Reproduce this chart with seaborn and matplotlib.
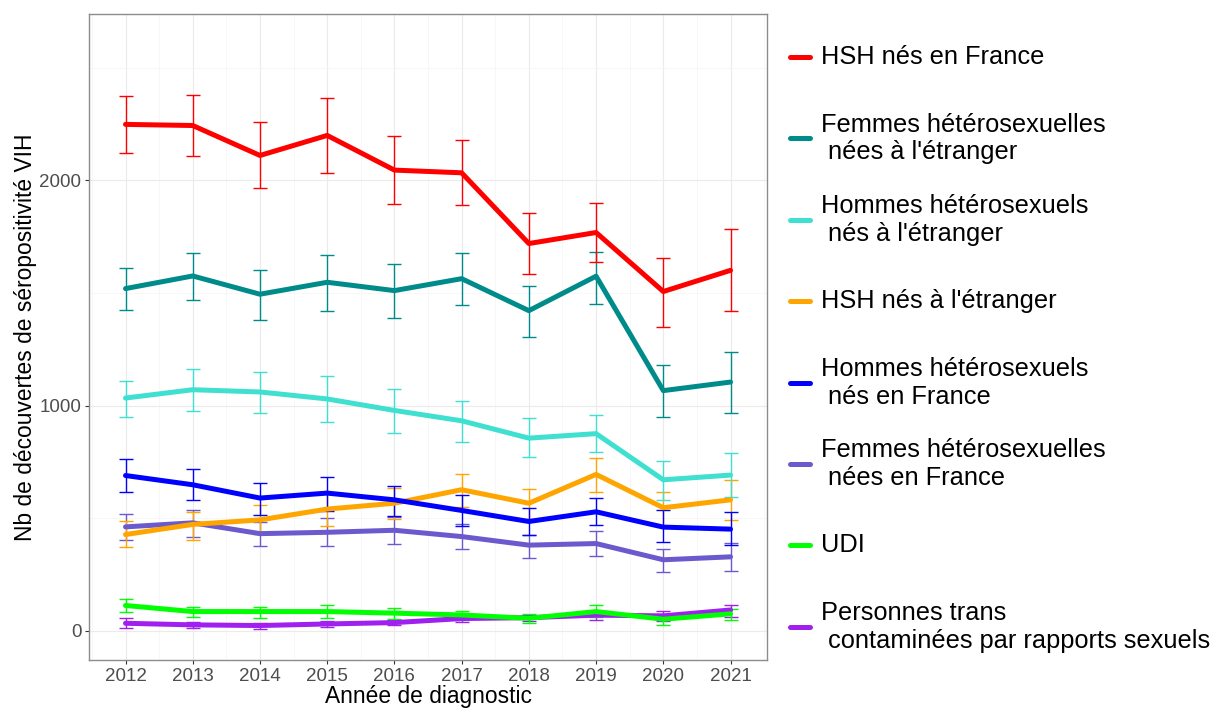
import matplotlib
matplotlib.use("Agg")
import matplotlib.pyplot as plt
from matplotlib.lines import Line2D
from matplotlib.ticker import MultipleLocator
import seaborn as sns
import pandas as pd

# data
years = [2012, 2013, 2014, 2015, 2016, 2017, 2018, 2019, 2020, 2021]

hsh_fr = [2249, 2244, 2111, 2200, 2046, 2034, 1720, 1769, 1507, 1601]
hsh_fr_lo = [2124, 2108, 1966, 2033, 1896, 1890, 1585, 1637, 1351, 1422]
hsh_fr_hi = [2376, 2379, 2258, 2366, 2199, 2179, 1855, 1899, 1656, 1784]

fem_etr = [1520, 1576, 1495, 1548, 1511, 1564, 1422, 1575, 1067, 1105]
fem_etr_lo = [1425, 1468, 1382, 1419, 1388, 1447, 1303, 1453, 948, 969]
fem_etr_hi = [1610, 1680, 1601, 1670, 1628, 1678, 1533, 1684, 1182, 1240]

hom_etr = [1034, 1071, 1061, 1030, 979, 933, 856, 876, 671, 692]
hom_etr_lo = [952, 976, 966, 929, 880, 840, 773, 793, 581, 593]
hom_etr_hi = [1110, 1163, 1151, 1132, 1076, 1022, 944, 960, 756, 791]

hsh_etr = [428, 473, 493, 541, 567, 627, 567, 695, 547, 582]
hsh_etr_lo = [373, 404, 430, 468, 496, 552, 496, 616, 467, 493]
hsh_etr_hi = [487, 530, 559, 612, 636, 696, 632, 767, 619, 671]

hom_fr = [690, 649, 590, 612, 582, 535, 486, 529, 461, 452]
hom_fr_lo = [619, 581, 514, 533, 510, 467, 425, 470, 394, 382]
hom_fr_hi = [763, 717, 659, 683, 643, 603, 545, 592, 535, 526]

fem_fr = [462, 480, 432, 438, 447, 419, 381, 388, 316, 329]
fem_fr_lo = [403, 418, 379, 375, 388, 366, 326, 333, 262, 267]
fem_fr_hi = [517, 535, 483, 502, 508, 477, 427, 443, 366, 391]

udi = [113, 86, 86, 86, 79, 71, 56, 86, 52, 76]
udi_lo = [83, 62, 59, 59, 55, 47, 36, 64, 28, 47]
udi_hi = [142, 108, 108, 114, 104, 90, 73, 113, 74, 98]

trans = [34, 27, 24, 31, 37, 55, 59, 70, 67, 93]
trans_lo = [12, 13, 10, 18, 25, 40, 43, 50, 46, 61]
trans_hi = [56, 40, 34, 43, 47, 70, 72, 88, 87, 116]

groups = [
    "HSH nés en France",
    "Femmes hétérosexuelles\n nées à l'étranger",
    "Hommes hétérosexuels\n nés à l'étranger",
    "HSH nés à l'étranger",
    "Hommes hétérosexuels\n nés en France",
    "Femmes hétérosexuelles\n nées en France",
    "UDI",
    "Personnes trans\n contaminées par rapports sexuels",
]
colors = ["#FF0000", "#008B8B", "#40E0D0", "#FFA500",
          "#0000FF", "#6A5ACD", "#00FF00", "#A020F0"]

values = [hsh_fr, fem_etr, hom_etr, hsh_etr, hom_fr, fem_fr, udi, trans]
lows = [hsh_fr_lo, fem_etr_lo, hom_etr_lo, hsh_etr_lo, hom_fr_lo, fem_fr_lo, udi_lo, trans_lo]
highs = [hsh_fr_hi, fem_etr_hi, hom_etr_hi, hsh_etr_hi, hom_fr_hi, fem_fr_hi, udi_hi, trans_hi]

frames = []
for g, v, lo, hi in zip(groups, values, lows, highs):
    frames.append(pd.DataFrame({"annee": years, "n": v, "lo": lo, "hi": hi, "groupe": g}))
df = pd.concat(frames, ignore_index=True)

palette = dict(zip(groups, colors))
# ggplot draws the factor levels alphabetically
draw_order = sorted(groups)

sns.set_theme(style="white")
plt.rcParams["font.family"] = ["Liberation Sans", "DejaVu Sans"]

fig = plt.figure(figsize=(12.21, 7.08), dpi=100)
ax = fig.add_axes([0.0729, 0.0678, 0.5553, 0.9124])

for g in draw_order:
    sub = df[df["groupe"] == g]
    ax.errorbar(sub["annee"], sub["n"],
                yerr=[sub["n"] - sub["lo"], sub["hi"] - sub["n"]],
                fmt="none", ecolor=palette[g], elinewidth=1.0,
                capsize=4.8, capthick=1.0, zorder=2)

sns.lineplot(data=df, x="annee", y="n", hue="groupe", hue_order=draw_order,
             palette=palette, linewidth=3.6, legend=False, ax=ax, zorder=3)

ax.set_xlim(2011.457, 2021.543)
ax.set_ylim(-129, 2739)
ax.set_xticks(years)
ax.set_xticklabels([str(y) for y in years])
ax.xaxis.set_minor_locator(MultipleLocator(0.5))
ax.set_yticks([0, 1000, 2000])
ax.yaxis.set_minor_locator(MultipleLocator(500))

ax.grid(which="major", color="#EBEBEB", linewidth=0.8, zorder=0)
ax.grid(which="minor", color="#F4F4F4", linewidth=0.5, zorder=0)
ax.set_axisbelow(True)
for s in ax.spines.values():
    s.set_color("#8C8C8C")
    s.set_linewidth(1.0)

ax.tick_params(axis="both", which="major", length=3, width=0.8, color="#333333",
               labelsize=13.5, labelcolor="#4D4D4D", pad=2.5, bottom=True, left=True)
ax.tick_params(axis="both", which="minor", length=0)

ax.set_xlabel("Année de diagnostic", fontsize=16.4, color="black", labelpad=0)
ax.set_ylabel("Nb de découvertes de séropositivité VIH", fontsize=16.4, color="black")
ax.yaxis.set_label_coords(-0.077, 0.5)

# legend on the right, one key per group at a fixed pitch
top_y = 1 - 57 / 708
pitch = 81.4 / 708
for i, (g, c) in enumerate(zip(groups, colors)):
    y = top_y - i * pitch
    fig.add_artist(Line2D([790 / 1221, 810 / 1221], [y, y], color=c,
                          linewidth=3.6, transform=fig.transFigure))
    fig.text(821 / 1221, y, g, fontsize=18.3, color="black", va="center", ha="left",
             linespacing=1.2)

fig.savefig("out.png", dpi=100)
